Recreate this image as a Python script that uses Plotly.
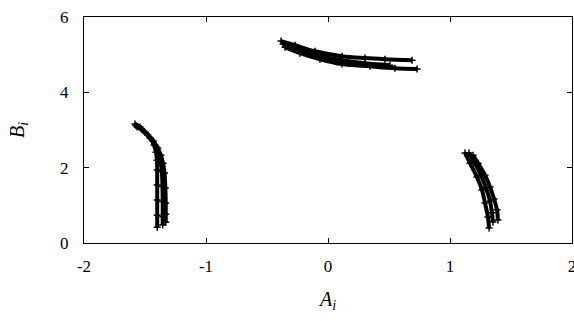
import plotly.graph_objects as go

# left cluster
l1_x = [-1.582, -1.541, -1.500, -1.459, -1.426, -1.410, -1.402, -1.400, -1.400, -1.400, -1.400, -1.400]
l1_y = [3.16, 3.08, 2.94, 2.79, 2.60, 2.41, 2.20, 1.94, 1.54, 1.14, 0.74, 0.42]
l2_x = [-1.575, -1.532, -1.488, -1.445, -1.410, -1.388, -1.372, -1.362, -1.357, -1.355, -1.355, -1.355]
l2_y = [3.12, 3.04, 2.90, 2.75, 2.56, 2.37, 2.16, 1.90, 1.50, 1.10, 0.70, 0.48]
l3_x = [-1.565, -1.522, -1.476, -1.432, -1.395, -1.370, -1.352, -1.340, -1.333, -1.330, -1.330, -1.330]
l3_y = [3.08, 3.00, 2.86, 2.71, 2.52, 2.33, 2.12, 1.86, 1.46, 1.06, 0.76, 0.55]

# middle cluster
m1_x = [-0.385, -0.270, -0.107, 0.115, 0.303, 0.467, 0.689]
m1_y = [5.36, 5.25, 5.09, 4.96, 4.91, 4.88, 4.85]
m2_x = [-0.369, -0.254, -0.090, 0.115, 0.303, 0.508]
m2_y = [5.28, 5.15, 4.99, 4.85, 4.77, 4.72]
m3_x = [-0.352, -0.230, -0.066, 0.115, 0.344, 0.549, 0.730]
m3_y = [5.20, 5.04, 4.88, 4.75, 4.69, 4.64, 4.62]

# right cluster
r1_x = [1.123, 1.164, 1.221, 1.262, 1.287, 1.311, 1.320]
r1_y = [2.39, 2.12, 1.75, 1.41, 1.06, 0.69, 0.40]
r2_x = [1.156, 1.197, 1.254, 1.295, 1.328, 1.344, 1.352]
r2_y = [2.39, 2.15, 1.80, 1.46, 1.11, 0.80, 0.56]
r3_x = [1.189, 1.230, 1.287, 1.328, 1.361, 1.385, 1.393]
r3_y = [2.33, 2.12, 1.80, 1.49, 1.17, 0.88, 0.61]

x_ticks = [-2, -1, 0, 1, 2]
x_labels = ['-2', '-1', '0', '1', '2']
y_ticks = [0, 2, 4, 6]
y_labels = ['0', '2', '4', '6']

curves = [(l1_x, l1_y), (l2_x, l2_y), (l3_x, l3_y),
          (m1_x, m1_y), (m2_x, m2_y), (m3_x, m3_y),
          (r1_x, r1_y), (r2_x, r2_y), (r3_x, r3_y)]

fig = go.Figure()
for cx, cy in curves:
    fig.add_scatter(x=cx, y=cy, mode='lines+markers',
                    line=dict(color='black', width=4, shape='spline'),
                    marker=dict(symbol='cross-thin', size=5, color='black',
                                line=dict(color='black', width=1.5)),
                    showlegend=False, cliponaxis=False)

font = 'Liberation Serif'
axis = dict(showgrid=False, zeroline=False, showline=True, mirror='ticks',
            linecolor='black', linewidth=1, ticks='inside', ticklen=5,
            tickcolor='black', automargin=False, ticklabeloverflow='allow',
            tickfont=dict(family=font, size=17, color='black'))

fig.update_layout(
    width=574, height=321,
    margin=dict(l=84, r=2, t=17, b=78),
    paper_bgcolor='white', plot_bgcolor='white',
    xaxis=dict(axis, range=[-2, 2], tickvals=x_ticks, ticktext=x_labels,
               ticklabelstandoff=8,
               title=dict(text='<i>A</i><sub><i>i</i></sub>', standoff=16,
                          font=dict(family=font, size=20, color='black'))),
    yaxis=dict(axis, range=[0, 6], tickvals=y_ticks, ticktext=y_labels,
               ticklabelstandoff=11,
               title=dict(text='<i>B</i><sub><i>i</i></sub>', standoff=30,
                          font=dict(family=font, size=20, color='black'))),
)

# page has a default 8px body margin; drop it so the chart sits at 0,0
fig.write_html("out.html", config={'displayModeBar': False},
               post_script="document.body.style.margin='0';")
